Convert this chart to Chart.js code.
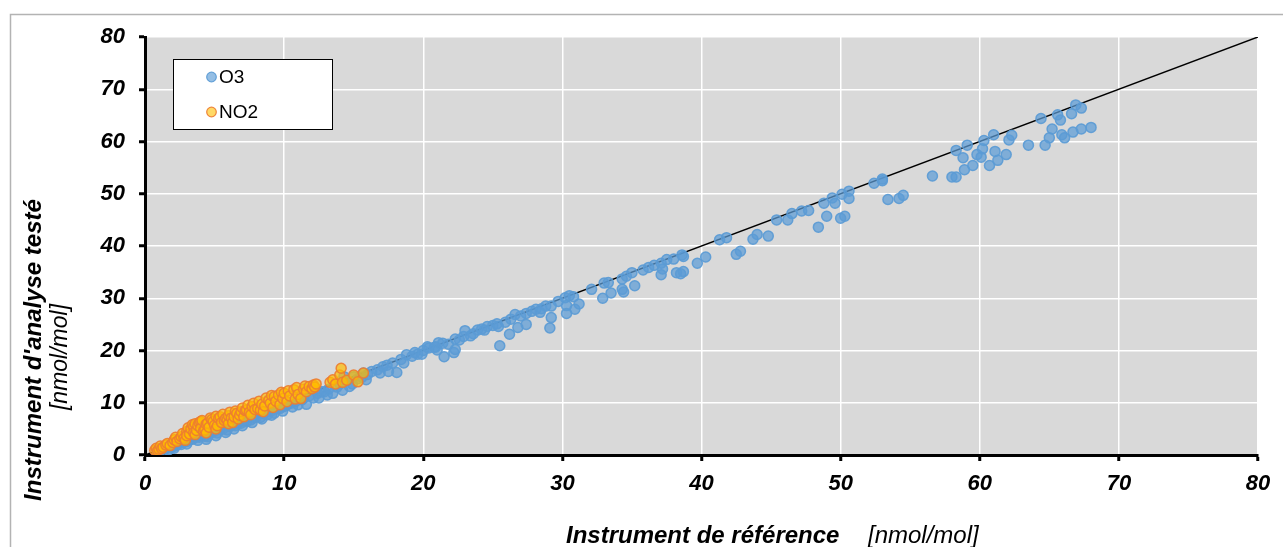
<!DOCTYPE html>
<html>
<head>
<meta charset="utf-8">
<script src="https://cdn.jsdelivr.net/npm/chart.js@4.4.1/dist/chart.umd.min.js"></script>
<style>
  html, body { margin: 0; padding: 0; background: #fff; }
  #wrap { position: relative; width: 1283px; height: 547px; }
</style>
</head>
<body>
<div id="wrap"><canvas id="c"></canvas></div>
<script>
// Axis ticks (nmol/mol)
const axisTicks = [0, 10, 20, 30, 40, 50, 60, 70, 80];

// O3: reference instrument vs. tested instrument [x, y]
const o3Points = [
  [0.9,0.6],[1.1,0.9],[1.3,0.8],[1.5,1.2],[1.7,1.0],[1.9,1.5],[2.0,1.6],[2.1,1.3],[2.2,1.8],[2.4,2.1],[2.6,2.0],
  [2.8,2.5],[3.0,2.6],[3.0,2.1],[3.2,2.9],[3.4,3.0],[3.5,3.2],[3.7,3.5],[3.8,2.8],[3.9,3.4],[4.1,3.8],[4.3,3.6],[4.4,3.0],[4.5,3.5],
  [4.6,4.1],[4.8,4.3],[5.0,4.6],[5.1,3.7],[5.2,4.2],[5.4,4.9],[5.6,5.0],[5.8,4.3],[5.9,4.8],[6.1,5.5],[6.3,5.8],[6.4,5.0],[6.5,5.6],
  [6.7,6.2],[6.9,6.1],[7.0,5.6],[7.1,6.5],[7.3,6.4],[7.6,6.7],[7.7,6.2],[7.8,7.1],[8.0,7.3],[8.3,7.2],[8.4,6.9],[8.5,7.9],[8.8,7.7],
  [9.0,8.3],[9.1,7.6],[9.3,8.0],[9.5,8.8],[9.7,8.9],[9.9,8.4],[10.0,9.3],[10.2,9.6],[10.5,9.9],[10.6,9.2],[10.8,10.2],[11.0,9.6],[11.3,10.6],
  [11.4,10.9],[11.6,9.7],[11.8,11.3],[12.1,10.9],[12.4,11.8],[12.5,10.9],[12.7,12.1],[12.9,12.1],[13.1,11.5],[13.2,12.6],[13.5,11.8],[13.8,13.0],[14.0,13.6],
  [14.2,12.4],[14.3,15.0],[14.5,14.2],[14.7,13.1],[14.9,13.6],[15.0,15.0],[15.3,14.6],[15.6,14.9],[15.7,15.7],[15.9,14.4],[16.0,15.4],[16.3,16.0],[16.7,16.3],[16.9,15.7],[17.1,16.9],
  [17.4,17.2],[17.5,16.0],[17.8,17.6],[18.1,15.8],[18.4,18.3],[18.6,17.6],[18.8,19.2],[19.2,18.9],[19.4,19.6],[19.6,19.3],[19.9,19.3],[20.0,20.0],[20.3,20.7],
  [20.4,20.5],[20.8,20.6],[20.9,20.7],[21.0,20.1],[21.1,21.5],[21.4,21.4],[21.5,18.8],[21.8,21.2],[22.2,19.6],[22.3,20.2],[22.3,22.2],[22.6,22.0],[22.9,22.7],
  [23.0,23.8],[23.4,22.8],[23.6,23.2],[23.9,23.9],[24.2,24.1],[24.4,23.9],[24.6,24.6],[25.0,24.8],[25.3,25.1],[25.4,24.6],[25.5,20.9],[25.9,25.4],
  [26.2,23.1],[26.3,26.0],[26.6,26.9],[26.8,24.4],[27.0,26.6],[27.4,27.1],[27.4,25.0],[27.8,27.5],[28.1,27.9],[28.4,27.3],[28.5,28.0],[28.8,28.5],[29.1,24.3],
  [29.2,28.5],[29.2,26.3],[29.7,29.4],[30.2,30.1],[30.3,28.6],[30.3,27.1],[30.5,30.5],[30.8,30.3],[30.9,27.9],[31.2,28.9],
  [32.1,31.7],[32.9,30.0],[33.0,32.9],[33.3,33.0],[33.5,31.0],[34.3,33.7],[34.3,31.7],[34.4,31.2],[34.6,34.2],[35.0,34.9],
  [35.2,32.4],[35.8,35.4],[36.2,35.9],[36.6,36.3],[37.1,36.7],[37.2,35.6],[37.1,34.5],[37.5,37.4],[38.0,37.5],[38.2,34.9],
  [38.5,34.7],[38.7,35.1],[38.6,38.3],[38.7,38.0],[39.7,36.7],[40.3,37.9],[41.3,41.2],[41.8,41.6],[42.5,38.4],[42.8,39.0],
  [43.7,41.3],[44.0,42.2],[44.8,41.9],[45.4,45.0],[46.2,45.0],[46.5,46.2],[47.2,46.7],[47.7,46.8],[48.4,43.6],[48.8,48.2],
  [49.0,45.7],[49.4,49.2],[49.6,48.2],[50.0,45.3],[50.1,49.9],[50.3,45.7],[50.6,50.5],[50.6,49.1],[52.4,52.0],[53.0,52.8],
  [53.0,52.5],[53.4,48.9],[54.2,49.1],[54.5,49.7],[56.6,53.4],[58.0,53.2],[58.3,53.2],[58.3,58.3],[58.8,56.9],[59.1,59.3],
  [58.9,54.6],[59.5,55.4],[59.8,57.5],[60.1,57.0],[60.2,58.6],[60.3,60.2],[60.7,55.4],[61.0,61.3],[61.1,58.1],[61.3,56.4],
  [61.9,57.5],[62.1,60.3],[62.3,61.2],[63.5,59.3],[64.4,64.4],[64.7,59.3],[65.0,60.7],[65.2,62.4],[65.6,65.1],[65.8,64.1],
  [65.9,61.3],[66.1,60.7],[66.6,65.3],[66.7,61.8],[66.9,67.0],[67.3,66.4],[67.3,62.4],[68.0,62.7]
];

// NO2: reference instrument vs. tested instrument [x, y]
const no2Points = [
  [0.7,0.9],[0.8,1.3],[0.9,0.8],[1.0,1.1],[1.1,1.7],[1.2,1.2],[1.3,1.5],[1.5,1.9],[1.6,2.2],[1.8,1.8],
  [2.0,2.4],[2.1,2.9],[2.2,3.4],[2.3,2.6],[2.5,3.1],[2.6,3.5],[2.7,4.1],[2.8,3.2],[2.9,2.8],[3.0,4.5],[3.0,3.7],[3.1,5.2],[3.2,4.0],[3.3,5.0],
  [3.4,5.8],[3.5,5.4],[3.5,4.3],[3.6,6.0],[3.6,3.9],[3.7,4.7],[3.8,5.6],[3.9,6.2],[4.0,6.4],[4.0,5.1],[4.1,6.6],[4.2,4.6],[4.3,4.8],[4.4,5.9],[4.4,4.2],[4.5,6.1],
  [4.6,5.3],[4.7,7.1],[4.8,6.8],[4.9,6.4],[5.0,5.7],[5.1,7.4],[5.1,5.0],[5.2,5.6],[5.3,7.0],[5.4,7.3],[5.5,6.2],[5.6,7.8],[5.7,6.6],[5.8,7.0],[5.9,6.7],
  [6.0,7.5],[6.0,6.0],[6.1,8.2],[6.2,7.1],[6.3,6.2],[6.4,7.3],[6.5,8.4],[6.6,8.0],[6.7,6.9],[6.8,7.6],[6.9,8.3],[7.0,9.0],[7.1,7.3],[7.2,8.5],[7.3,8.6],
  [7.4,9.5],[7.5,8.2],[7.6,7.7],[7.7,9.3],[7.8,9.9],[7.9,8.7],[8.1,8.9],[8.2,10.3],[8.3,8.6],[8.4,9.7],[8.5,8.3],[8.6,9.4],[8.7,10.9],[8.9,10.5],[9.0,9.9],
  [9.1,11.4],[9.2,9.1],[9.3,11.2],[9.4,10.3],[9.6,11.5],[9.7,9.6],[9.8,12.0],[9.9,10.8],[10.0,11.8],[10.2,10.2],[10.3,12.3],[10.4,11.3],[10.7,12.5],[10.8,10.7],
  [10.9,12.9],[11.0,11.6],[11.2,10.8],[11.4,12.6],[11.5,13.2],[11.6,12.1],[11.8,13.1],[12.0,12.7],[12.1,13.4],[12.2,13.0],[12.3,13.6],[13.3,13.9],[13.5,14.4],
  [13.7,13.6],[14.0,15.3],[14.1,16.6],[14.2,13.9],[14.5,14.3],[15.0,15.3],[15.3,14.0],[15.7,15.7]
];

// 1:1 reference line end points
const identityLine = [[0, 0], [80, 80]];

const FONT = '"Liberation Sans", Arial, sans-serif';
const toXY = arr => arr.map(p => ({ x: p[0], y: p[1] }));

// Grey plot background and outer frame
const backdrop = {
  id: 'backdrop',
  beforeDraw(chart) {
    const { ctx, chartArea: a } = chart;
    ctx.save();
    ctx.strokeStyle = '#b3b3b3';
    ctx.lineWidth = 1.5;
    ctx.strokeRect(10.5, 14.5, 1400, 700);
    ctx.fillStyle = '#d9d9d9';
    ctx.fillRect(a.left, a.top, a.right - a.left, a.bottom - a.top);
    ctx.restore();
  }
};

// Axis titles and inset legend
const annotations = {
  id: 'annotations',
  afterDraw(chart) {
    const { ctx } = chart;
    ctx.save();
    ctx.fillStyle = '#000';

    // x title
    ctx.textBaseline = 'alphabetic';
    ctx.textAlign = 'left';
    ctx.font = 'italic bold 24px ' + FONT;
    ctx.fillText('Instrument de référence', 566, 543);
    ctx.font = 'italic 24px ' + FONT;
    ctx.fillText('[nmol/mol]', 868, 543);

    // y title (rotated)
    ctx.save();
    ctx.translate(41, 350);
    ctx.rotate(-Math.PI / 2);
    ctx.textAlign = 'center';
    ctx.font = 'italic bold 24px ' + FONT;
    ctx.fillText("Instrument d'analyse testé", 0, 0);
    ctx.restore();
    ctx.save();
    ctx.translate(67, 357);
    ctx.rotate(-Math.PI / 2);
    ctx.textAlign = 'center';
    ctx.font = 'italic 23px ' + FONT;
    ctx.fillText('[nmol/mol]', 0, 0);
    ctx.restore();

    // legend
    const bx = 173.5, by = 59.5, bw = 159, bh = 70;
    ctx.fillStyle = '#fff';
    ctx.fillRect(bx, by, bw, bh);
    ctx.strokeStyle = '#000';
    ctx.lineWidth = 1;
    ctx.strokeRect(bx, by, bw, bh);
    const items = chart.data.datasets
      .filter(d => d.legendRank !== undefined)
      .sort((a, b) => a.legendRank - b.legendRank);
    items.forEach((d, i) => {
      const cy = 77 + i * 35;
      ctx.beginPath();
      ctx.arc(211.5, cy, 4.8, 0, Math.PI * 2);
      ctx.fillStyle = d.legendFill;
      ctx.fill();
      ctx.lineWidth = 1.2;
      ctx.strokeStyle = d.borderColor;
      ctx.stroke();
      ctx.fillStyle = '#000';
      ctx.font = '19px ' + FONT;
      ctx.textAlign = 'left';
      ctx.textBaseline = 'middle';
      ctx.fillText(d.label, 219, cy + 1);
    });
    ctx.restore();
  }
};

const tickFont = { family: FONT, size: 22, weight: 'bold', style: 'italic' };

new Chart(document.getElementById('c'), {
  type: 'scatter',
  data: {
    datasets: [
      {
        label: 'NO2',
        legendRank: 1,
        legendFill: 'rgba(255,192,0,0.6)',
        data: toXY(no2Points),
        backgroundColor: 'rgba(255,188,0,0.7)',
        borderColor: 'rgba(237,125,49,0.92)',
        borderWidth: 1.5,
        pointRadius: 5,
        order: 1
      },
      {
        label: 'O3',
        legendRank: 0,
        legendFill: 'rgba(91,155,213,0.65)',
        data: toXY(o3Points),
        backgroundColor: 'rgba(91,155,213,0.72)',
        borderColor: 'rgba(91,155,213,0.92)',
        borderWidth: 1.5,
        pointRadius: 5,
        order: 2
      },
      {
        label: '1:1',
        type: 'line',
        data: toXY(identityLine),
        borderColor: '#000',
        borderWidth: 1.5,
        pointRadius: 0,
        fill: false,
        order: 3
      }
    ]
  },
  options: {
    responsive: true,
    maintainAspectRatio: false,
    animation: false,
    layout: { padding: { left: 0, top: 37, right: 25, bottom: 0 } },
    plugins: { legend: { display: false }, tooltip: { enabled: false } },
    scales: {
      x: {
        type: 'linear',
        min: axisTicks[0],
        max: axisTicks[axisTicks.length - 1],
        afterBuildTicks: s => { s.ticks = axisTicks.map(v => ({ value: v })); },
        afterFit: s => { s.height = 92; },
        border: { color: '#000', width: 3 },
        grid: { color: '#fff', lineWidth: 1.5, tickColor: '#000', tickWidth: 3, tickLength: 6 },
        ticks: { color: '#000', font: tickFont, padding: 10, maxRotation: 0 }
      },
      y: {
        type: 'linear',
        min: axisTicks[0],
        max: axisTicks[axisTicks.length - 1],
        afterBuildTicks: s => { s.ticks = axisTicks.map(v => ({ value: v })); },
        afterFit: s => { s.width = 145; },
        border: { color: '#000', width: 3 },
        grid: { color: '#fff', lineWidth: 1.5, tickColor: '#000', tickWidth: 3, tickLength: 6 },
        ticks: { color: '#000', font: tickFont, padding: 14 }
      }
    }
  },
  plugins: [backdrop, annotations]
});
</script>
</body>
</html>
